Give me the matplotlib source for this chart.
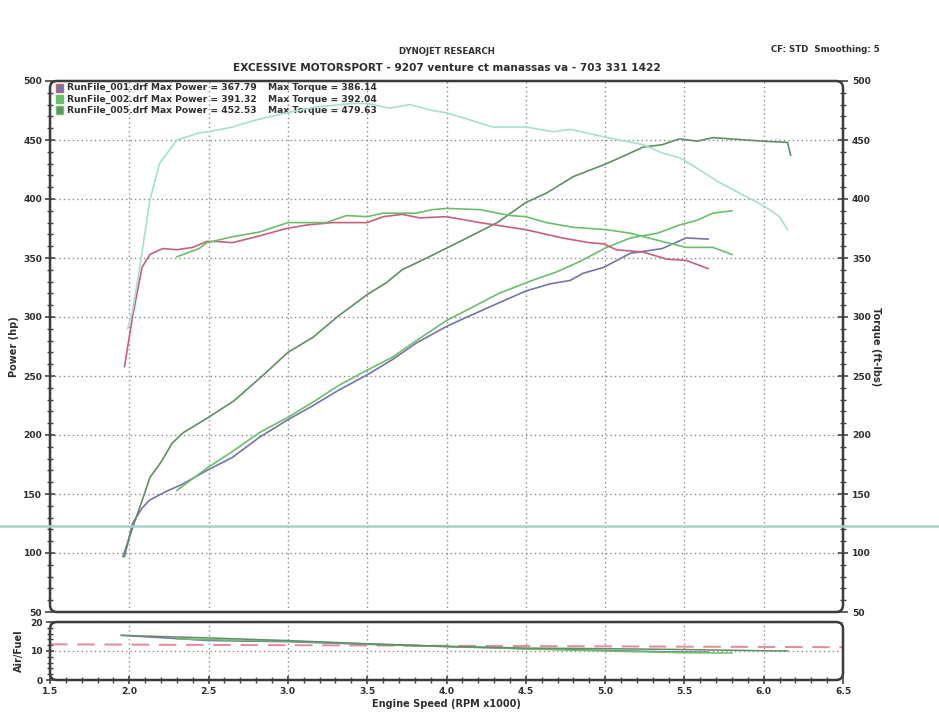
import matplotlib
matplotlib.use("Agg")
import matplotlib.pyplot as plt
from matplotlib.patches import FancyBboxPatch, Rectangle
from matplotlib.lines import Line2D
from matplotlib.ticker import MultipleLocator

# ---------------- data ----------------
rpm_hp_001 = [1.97, 2.02, 2.08, 2.13, 2.23, 2.33, 2.49, 2.65, 2.82, 3.0, 3.16, 3.32, 3.5, 3.66,
              3.81, 4.0, 4.13, 4.33, 4.5, 4.65, 4.78, 4.86, 4.99, 5.16, 5.36, 5.51, 5.65]
hp_001 = [97, 125, 138, 145, 152, 158, 170, 181, 198, 213, 225, 238, 251, 264,
          278, 292, 300, 312, 322, 328, 331, 337, 342, 354, 358, 367, 366]

rpm_hp_002 = [2.3, 2.49, 2.65, 2.82, 3.0, 3.16, 3.32, 3.5, 3.66, 3.81, 4.0, 4.13, 4.33, 4.54,
              4.69, 4.84, 5.01, 5.16, 5.33, 5.47, 5.58, 5.68, 5.8]
hp_002 = [153, 172, 186, 202, 215, 228, 242, 255, 266, 280, 297, 306, 320, 331,
          338, 347, 359, 367, 371, 378, 382, 388, 390]

rpm_hp_005 = [1.96, 2.03, 2.09, 2.13, 2.2, 2.27, 2.34, 2.5, 2.66, 2.83, 3.0, 3.16, 3.31, 3.5,
              3.62, 3.72, 3.89, 4.1, 4.32, 4.5, 4.63, 4.8, 5.01, 5.11, 5.24, 5.36, 5.47,
              5.58, 5.68, 5.89, 5.99, 6.15, 6.17]
hp_005 = [97, 125, 148, 164, 177, 193, 202, 215, 229, 249, 270, 283, 300, 319,
          329, 340, 351, 365, 380, 397, 405, 419, 430, 436, 444, 446, 451,
          449, 452, 450, 449, 448, 437]

rpm_tq_001 = [1.97, 2.02, 2.08, 2.13, 2.21, 2.3, 2.4, 2.49, 2.55, 2.65, 2.8, 2.99, 3.12, 3.28,
              3.5, 3.6, 3.72, 3.83, 4.0, 4.21, 4.5, 4.73, 4.9, 4.99, 5.07, 5.24, 5.39, 5.51, 5.65]
tq_001 = [258, 300, 342, 353, 358, 357, 359, 364, 364, 363, 368, 375, 378, 380,
          380, 385, 387, 384, 385, 380, 374, 367, 363, 362, 357, 355, 349, 348, 341]

rpm_tq_002 = [2.3, 2.44, 2.49, 2.65, 2.82, 3.0, 3.24, 3.37, 3.5, 3.6, 3.81, 3.91, 4.0, 4.21,
              4.4, 4.5, 4.63, 4.8, 5.01, 5.16, 5.36, 5.51, 5.68, 5.8]
tq_002 = [351, 358, 363, 368, 372, 380, 380, 386, 385, 388, 388, 391, 392, 391,
          386, 385, 380, 376, 374, 371, 364, 359, 359, 353]

rpm_tq_005 = [1.99, 2.02, 2.06, 2.13, 2.19, 2.3, 2.44, 2.5, 2.65, 2.8, 2.99, 3.18, 3.41, 3.5,
              3.64, 3.77, 3.91, 4.0, 4.1, 4.29, 4.5, 4.67, 4.78, 4.95, 5.09, 5.24, 5.36,
              5.47, 5.58, 5.72, 5.89, 5.99, 6.1, 6.15]
tq_005 = [290, 305, 337, 399, 430, 450, 456, 457, 461, 467, 473, 478, 481, 481,
          477, 480, 475, 473, 469, 461, 461, 457, 459, 454, 450, 446, 439,
          435, 426, 414, 402, 395, 385, 374]

rpm_afr_001 = [1.95, 2.5, 3.0, 3.5, 4.0, 4.5, 5.0, 5.4, 5.65]
afr_001 = [15.4, 13.6, 13.2, 12.3, 11.5, 10.8, 10.2, 9.7, 9.6]
rpm_afr_002 = [2.3, 2.5, 3.0, 3.5, 4.0, 4.5, 5.0, 5.5, 5.8]
afr_002 = [14.2, 13.9, 13.4, 12.4, 11.6, 10.7, 10.0, 9.4, 9.3]
rpm_afr_005 = [1.95, 2.5, 3.0, 3.5, 4.0, 4.5, 5.0, 5.5, 6.0, 6.15]
afr_005 = [15.4, 14.5, 13.6, 12.5, 11.6, 11.0, 10.8, 10.5, 10.1, 10.0]
rpm_afr_target = [1.5, 6.5]
afr_target = [12.3, 11.3]

run_names = ["RunFile_001.drf", "RunFile_002.drf", "RunFile_005.drf"]
max_power = ["367.79", "391.32", "452.53"]
max_torque = ["386.14", "392.04", "479.63"]

# ---------------- styles ----------------
C_HP001 = "#7474aa"
C_TQ001 = "#c8607c"
C_002 = "#6cbf6a"
C_HP005 = "#5f8f63"
C_TQ005 = "#a6e2c6"
TXT = "#2e2e2e"
FS = 6.6

plt.rcParams["font.family"] = ["DejaVu Sans"]
plt.rcParams["font.weight"] = "bold"

fig = plt.figure(figsize=(9.39, 7.2), dpi=100)
fig.patch.set_facecolor("white")

W, H = 939, 720
def frac(l, t, r, b):
    return [l / W, 1 - b / H, (r - l) / W, (b - t) / H]

ax = fig.add_axes(frac(50, 81, 843, 612))
axr = ax.twinx()
axa = fig.add_axes(frac(50, 622, 843, 680))

grid_kw = dict(color="#8a8a8a", linestyle=(0, (1, 2.2)), linewidth=1.0)

for a in (ax, axa):
    a.set_xlim(1.5, 6.5)
    a.xaxis.set_major_locator(MultipleLocator(0.5))
    a.xaxis.set_minor_locator(MultipleLocator(0.1))
    for s in a.spines.values():
        s.set_visible(False)

ax.set_ylim(50, 500)
axr.set_ylim(50, 500)
for a in (ax, axr):
    a.yaxis.set_major_locator(MultipleLocator(50))
    a.yaxis.set_minor_locator(MultipleLocator(10))
    for s in a.spines.values():
        s.set_visible(False)

ax.grid(True, which="major", **grid_kw)
ax.tick_params(axis="x", which="both", length=0, labelbottom=False)
ax.tick_params(axis="y", which="major", direction="inout", length=7, width=1.2,
               color="#444", labelsize=FS, labelcolor=TXT, pad=2)
ax.tick_params(axis="y", which="minor", direction="inout", length=4, width=1.0, color="#444")
axr.tick_params(axis="y", which="major", direction="inout", length=7, width=1.2,
                color="#444", labelsize=FS, labelcolor=TXT, pad=3)
axr.tick_params(axis="y", which="minor", direction="inout", length=4, width=1.0, color="#444")

for lab in ax.get_yticklabels() + axr.get_yticklabels():
    lab.set_fontweight("bold")

# power curves
lw = 1.2
ax.plot(rpm_hp_001, hp_001, color=C_HP001, lw=lw, zorder=3)
ax.plot(rpm_hp_002, hp_002, color=C_002, lw=lw, zorder=3)
ax.plot(rpm_hp_005, hp_005, color=C_HP005, lw=lw, zorder=3)
# torque curves
axr.plot(rpm_tq_001, tq_001, color=C_TQ001, lw=lw, zorder=3)
axr.plot(rpm_tq_002, tq_002, color=C_002, lw=lw, zorder=3)
axr.plot(rpm_tq_005, tq_005, color=C_TQ005, lw=lw, zorder=3)

ax.set_ylabel("Power (hp)", fontsize=FS + 0.4, fontweight="bold", color=TXT, labelpad=3)
axr.set_ylabel("Torque (ft-lbs)", fontsize=FS + 0.4, fontweight="bold", color=TXT,
               rotation=-90, labelpad=7)

# legend text block
ys = [0.987, 0.966, 0.945]
sw_colors = [(C_HP001, C_TQ001), (C_002, C_002), (C_HP005, C_002)]
for i in range(3):
    ax.add_patch(Rectangle((0.008, ys[i] - 0.008), 0.009, 0.016, transform=ax.transAxes,
                           facecolor=sw_colors[i][0], edgecolor=sw_colors[i][1], lw=1.0,
                           zorder=5, clip_on=False))
    ax.text(0.0215, ys[i], f"{run_names[i]} Max Power = {max_power[i]}",
            transform=ax.transAxes, fontsize=FS, fontweight="bold", color=TXT,
            va="center", ha="left", zorder=6)
    ax.text(0.275, ys[i], f"Max Torque = {max_torque[i]}",
            transform=ax.transAxes, fontsize=FS, fontweight="bold", color=TXT,
            va="center", ha="left", zorder=6)

# air/fuel panel
axa.set_ylim(0, 20)
axa.yaxis.set_major_locator(MultipleLocator(10))
axa.yaxis.set_minor_locator(MultipleLocator(2))
axa.grid(True, which="major", **grid_kw)
axa.tick_params(axis="both", which="major", direction="inout", length=6, width=1.2,
                color="#444", labelsize=FS, labelcolor=TXT, pad=2)
axa.tick_params(axis="both", which="minor", direction="inout", length=4, width=1.0, color="#444")
axa.set_xticks([1.5, 2.0, 2.5, 3.0, 3.5, 4.0, 4.5, 5.0, 5.5, 6.0, 6.5])
axa.set_xticklabels(["1.5", "2.0", "2.5", "3.0", "3.5", "4.0", "4.5", "5.0", "5.5", "6.0", "6.5"],
                    fontweight="bold")
for lab in axa.get_yticklabels():
    lab.set_fontweight("bold")
axa.plot(rpm_afr_target, afr_target, color="#e48a98", lw=1.4, dashes=(9, 5), zorder=2)
axa.plot(rpm_afr_001, afr_001, color=C_HP001, lw=1.1, zorder=3)
axa.plot(rpm_afr_002, afr_002, color=C_002, lw=1.1, zorder=3)
axa.plot(rpm_afr_005, afr_005, color=C_HP005, lw=1.1, zorder=3)
axa.set_ylabel("Air/Fuel", fontsize=FS + 0.4, fontweight="bold", color=TXT, labelpad=5)
axa.set_xlabel("Engine Speed (RPM x1000)", fontsize=FS + 0.4, fontweight="bold", color=TXT, labelpad=2)

# rounded frames around panels
for a in (ax, axa):
    pos = a.get_position()
    fw, fh = fig.get_size_inches()
    frame = FancyBboxPatch((pos.x0 * fw, pos.y0 * fh), pos.width * fw, pos.height * fh,
                           boxstyle="round,pad=0,rounding_size=0.07",
                           transform=fig.dpi_scale_trans, facecolor="none",
                           edgecolor="#3c3c3c", lw=1.8, zorder=10)
    fig.add_artist(frame)

# header texts
fig.text(447 / W, 1 - 51 / H, "DYNOJET RESEARCH", fontsize=6.2, fontweight="bold",
         color=TXT, ha="center", va="center")
fig.text(447 / W, 1 - 68 / H, "EXCESSIVE MOTORSPORT - 9207 venture ct manassas va - 703 331 1422",
         fontsize=7.6, fontweight="bold", color=TXT, ha="center", va="center")
fig.text(880 / W, 1 - 50 / H, "CF: STD  Smoothing: 5", fontsize=6.2, fontweight="bold",
         color=TXT, ha="right", va="center")

# scan artefact line across the page (drawn over the chart, as in the scan)
fig.add_artist(Line2D([0, 1], [1 - 526 / H, 1 - 526 / H], transform=fig.transFigure,
                      color="#a5d3c9", lw=1.8, zorder=20))

fig.savefig("out.png", dpi=100, facecolor="white")
